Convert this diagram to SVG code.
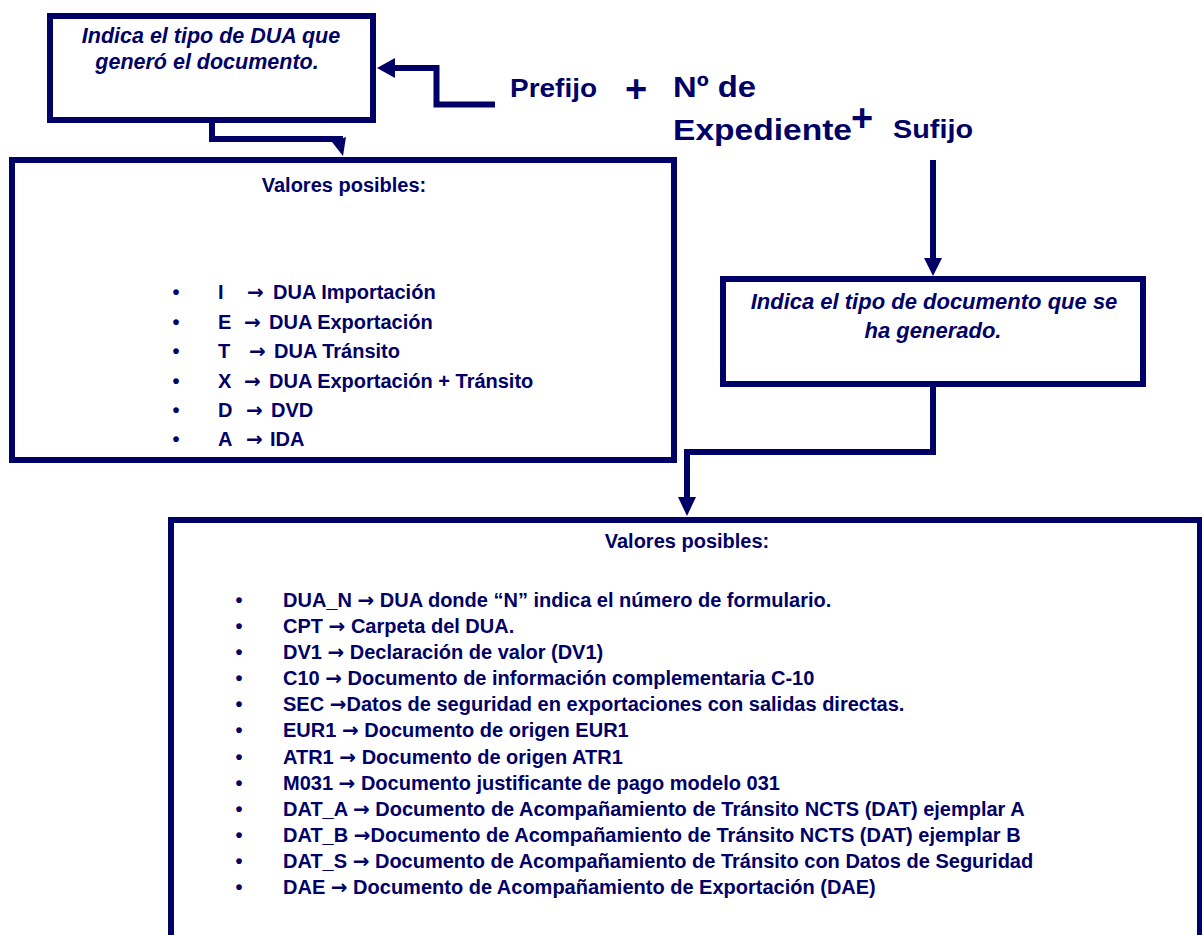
<svg xmlns="http://www.w3.org/2000/svg" width="1202" height="935" viewBox="0 0 1202 935">
<style>
.box{fill:#ffffff;stroke:#000066;stroke-width:6}
.t{font-family:"Liberation Sans",Arial,"DejaVu Sans",sans-serif;font-weight:bold;fill:#000066}
.it{font-style:italic}
.c{text-anchor:middle}
.l20{font-size:20px}
.ar{font-family:"DejaVu Sans",sans-serif;font-weight:bold}
.conn{fill:none;stroke:#000066;stroke-width:6}
.head{fill:#000066;stroke:none}
</style>
<rect width="1202" height="935" fill="#ffffff"/>

<g id="connectors">
  <path class="conn" d="M495,104.5 H436.5 V68 H392"/>
  <polygon class="head" points="377,68 395,58 395,78"/>
  <path class="conn" d="M212,123 V139 H343"/>
  <polygon class="head" points="332,142 346,137 343,156"/>
  <path class="conn" d="M933,160 V260"/>
  <polygon class="head" points="924,258 942,258 933,276"/>
  <path class="conn" d="M933,387 V452 H687 V500"/>
  <polygon class="head" points="678,497 696,497 687,516"/>
</g>

<g id="node-tipo-dua">
  <rect class="box" x="50" y="16" width="323" height="104"/>
  <text class="t it c" x="211" y="43" font-size="21.5">Indica el tipo de DUA que</text>
  <text class="t it c" x="207" y="69" font-size="21.5">generó el documento.</text>
</g>

<g id="node-prefijo">
  <text class="t" x="510" y="97" font-size="26" textLength="87" lengthAdjust="spacingAndGlyphs">Prefijo</text>
</g>
<g id="plus-1">
  <text class="t c" x="636" y="102" font-size="38">+</text>
</g>
<g id="node-expediente">
  <text class="t" x="673" y="97" font-size="30" textLength="83" lengthAdjust="spacingAndGlyphs">Nº de</text>
  <text class="t" x="673" y="140" font-size="30" textLength="179" lengthAdjust="spacingAndGlyphs">Expediente</text>
</g>
<g id="plus-2">
  <text class="t c" x="862" y="131" font-size="38">+</text>
</g>
<g id="node-sufijo">
  <text class="t" x="893" y="138" font-size="26" textLength="80" lengthAdjust="spacingAndGlyphs">Sufijo</text>
</g>

<g id="node-valores-dua">
  <rect class="box" x="12" y="160" width="662" height="300"/>
  <text class="t c l20" x="344" y="192">Valores posibles:</text>
  <g class="t l20">
    <text x="176" y="299" class="c">•</text>
    <text x="218" y="299">I</text><text x="247" y="299" class="ar">→</text><text x="273" y="299">DUA Importación</text>
    <text x="176" y="329" class="c">•</text>
    <text x="218" y="329">E</text><text x="244" y="329" class="ar">→</text><text x="269" y="329">DUA Exportación</text>
    <text x="176" y="358" class="c">•</text>
    <text x="218" y="358">T</text><text x="249" y="358" class="ar">→</text><text x="274" y="358">DUA Tránsito</text>
    <text x="176" y="388" class="c">•</text>
    <text x="218" y="388">X</text><text x="244" y="388" class="ar">→</text><text x="269" y="388">DUA Exportación + Tránsito</text>
    <text x="176" y="417" class="c">•</text>
    <text x="218" y="417">D</text><text x="246" y="417" class="ar">→</text><text x="271" y="417">DVD</text>
    <text x="176" y="446" class="c">•</text>
    <text x="218" y="446">A</text><text x="246" y="446" class="ar">→</text><text x="270" y="446">IDA</text>
  </g>
</g>

<g id="node-tipo-doc">
  <rect class="box" x="723" y="279" width="420" height="105"/>
  <text class="t it c" x="934" y="309" font-size="22">Indica el tipo de documento que se</text>
  <text class="t it c" x="933" y="338" font-size="22">ha generado.</text>
</g>

<g id="node-valores-doc">
  <rect class="box" x="171" y="520" width="1029" height="440"/>
  <text class="t c l20" x="687" y="548">Valores posibles:</text>
  <g class="t l20">
    <text x="239" y="607" class="c">•</text><text x="283" y="607">DUA_N <tspan class="ar">→</tspan> DUA donde “N” indica el número de formulario.</text>
    <text x="239" y="633" class="c">•</text><text x="283" y="633">CPT <tspan class="ar">→</tspan> Carpeta del DUA.</text>
    <text x="239" y="659" class="c">•</text><text x="283" y="659">DV1 <tspan class="ar">→</tspan> Declaración de valor (DV1)</text>
    <text x="239" y="685" class="c">•</text><text x="283" y="685">C10 <tspan class="ar">→</tspan> Documento de información complementaria C-10</text>
    <text x="239" y="711" class="c">•</text><text x="283" y="711">SEC <tspan class="ar">→</tspan>Datos de seguridad en exportaciones con salidas directas.</text>
    <text x="239" y="737" class="c">•</text><text x="283" y="737">EUR1 <tspan class="ar">→</tspan> Documento de origen EUR1</text>
    <text x="239" y="764" class="c">•</text><text x="283" y="764">ATR1 <tspan class="ar">→</tspan> Documento de origen ATR1</text>
    <text x="239" y="790" class="c">•</text><text x="283" y="790">M031 <tspan class="ar">→</tspan> Documento justificante de pago modelo 031</text>
    <text x="239" y="816" class="c">•</text><text x="283" y="816">DAT_A <tspan class="ar">→</tspan> Documento de Acompañamiento de Tránsito NCTS (DAT) ejemplar A</text>
    <text x="239" y="842" class="c">•</text><text x="283" y="842">DAT_B <tspan class="ar">→</tspan>Documento de Acompañamiento de Tránsito NCTS (DAT) ejemplar B</text>
    <text x="239" y="868" class="c">•</text><text x="283" y="868">DAT_S <tspan class="ar">→</tspan> Documento de Acompañamiento de Tránsito con Datos de Seguridad</text>
    <text x="239" y="894" class="c">•</text><text x="283" y="894">DAE <tspan class="ar">→</tspan> Documento de Acompañamiento de Exportación (DAE)</text>
  </g>
</g>
</svg>
